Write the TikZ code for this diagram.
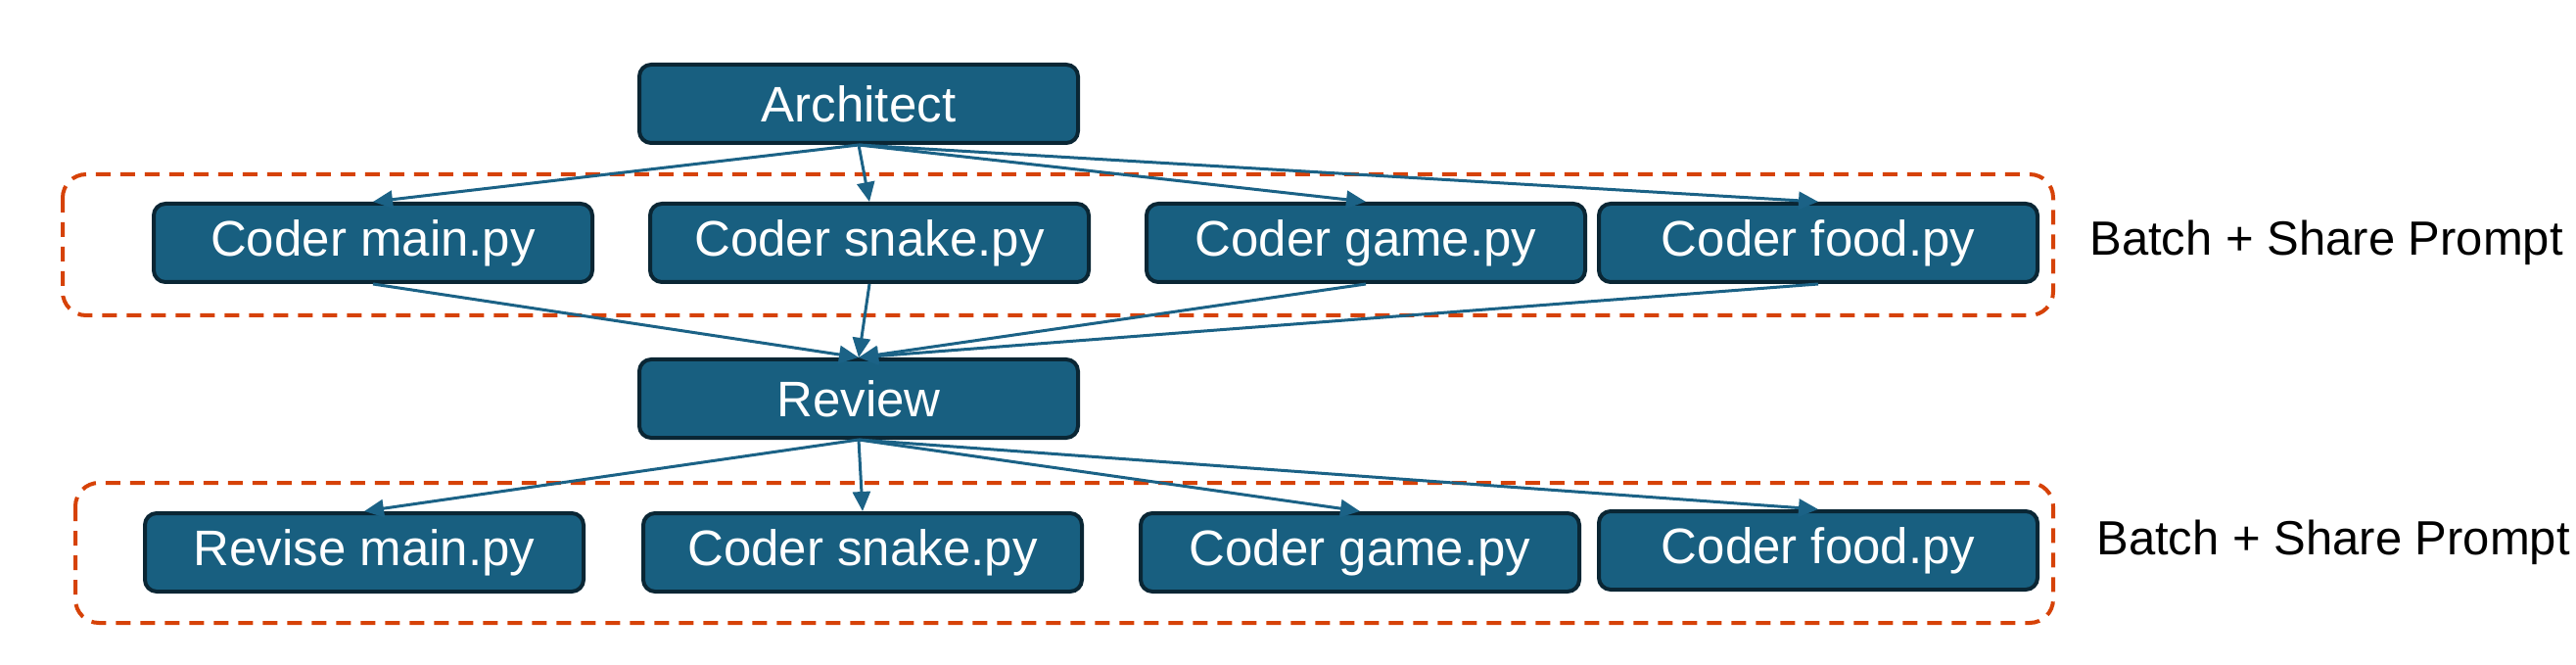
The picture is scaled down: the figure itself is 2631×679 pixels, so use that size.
\documentclass[tikz,border=0pt]{standalone}
\usepackage{fontspec}
\setmainfont{Liberation Sans}
\usetikzlibrary{arrows.meta}
\definecolor{boxfill}{RGB}{24,95,128}
\definecolor{boxline}{RGB}{10,38,52}
\definecolor{arrowc}{RGB}{27,98,134}
\definecolor{dashc}{RGB}{214,66,8}
\tikzset{
  x=0.5pt, y=-0.5pt,
  agent/.style={draw=boxline, line width=2pt, fill=boxfill, rounded corners=6pt,
    minimum width=224pt, minimum height=40pt, text=white, inner sep=0pt,
    font=\fontsize{25.5}{30}\selectfont},
  flow/.style={draw=arrowc, line width=1.5pt, -{Triangle[length=10pt,width=9pt]}},
  group/.style={draw=dashc, line width=2pt, dash pattern=on 7.5pt off 5pt, rounded corners=12pt},
  note/.style={anchor=west, inner sep=0pt, font=\fontsize{24.5}{29}\selectfont}
}
\begin{document}
\begin{tikzpicture}
\useasboundingbox (0,0) rectangle (2631,679);
% groups
\draw[group] (64,178) rectangle (2097,322);
\draw[group] (77,493) rectangle (2097,636);
% nodes
\node[agent] (arch) at (877,106) {Architect};
\node[agent] (cmain) at (381,248) {Coder main.py};
\node[agent] (csnake) at (888,248) {Coder snake.py};
\node[agent] (cgame) at (1395,248) {Coder game.py};
\node[agent] (cfood) at (1857,248) {Coder food.py};
\node[agent] (review) at (877,407) {Review};
\node[agent] (rmain) at (372,564) {Revise main.py};
\node[agent] (rsnake) at (881,564) {Coder snake.py};
\node[agent] (rgame) at (1389,564) {Coder game.py};
\node[agent] (rfood) at (1857,562) {Coder food.py};
\node[note] (b1) at (2134,248) {Batch + Share Prompt};
\node[note] (b2) at (2141,554) {Batch + Share Prompt};
% connectors
\foreach \n in {cmain,csnake,cgame,cfood} {
  \draw[flow] (arch.south) -- (\n.north);
  \draw[flow] (\n.south) -- (review.north);
}
\foreach \n in {rmain,rsnake,rgame,rfood} {
  \draw[flow] (review.south) -- (\n.north);
}
\end{tikzpicture}
\end{document}
